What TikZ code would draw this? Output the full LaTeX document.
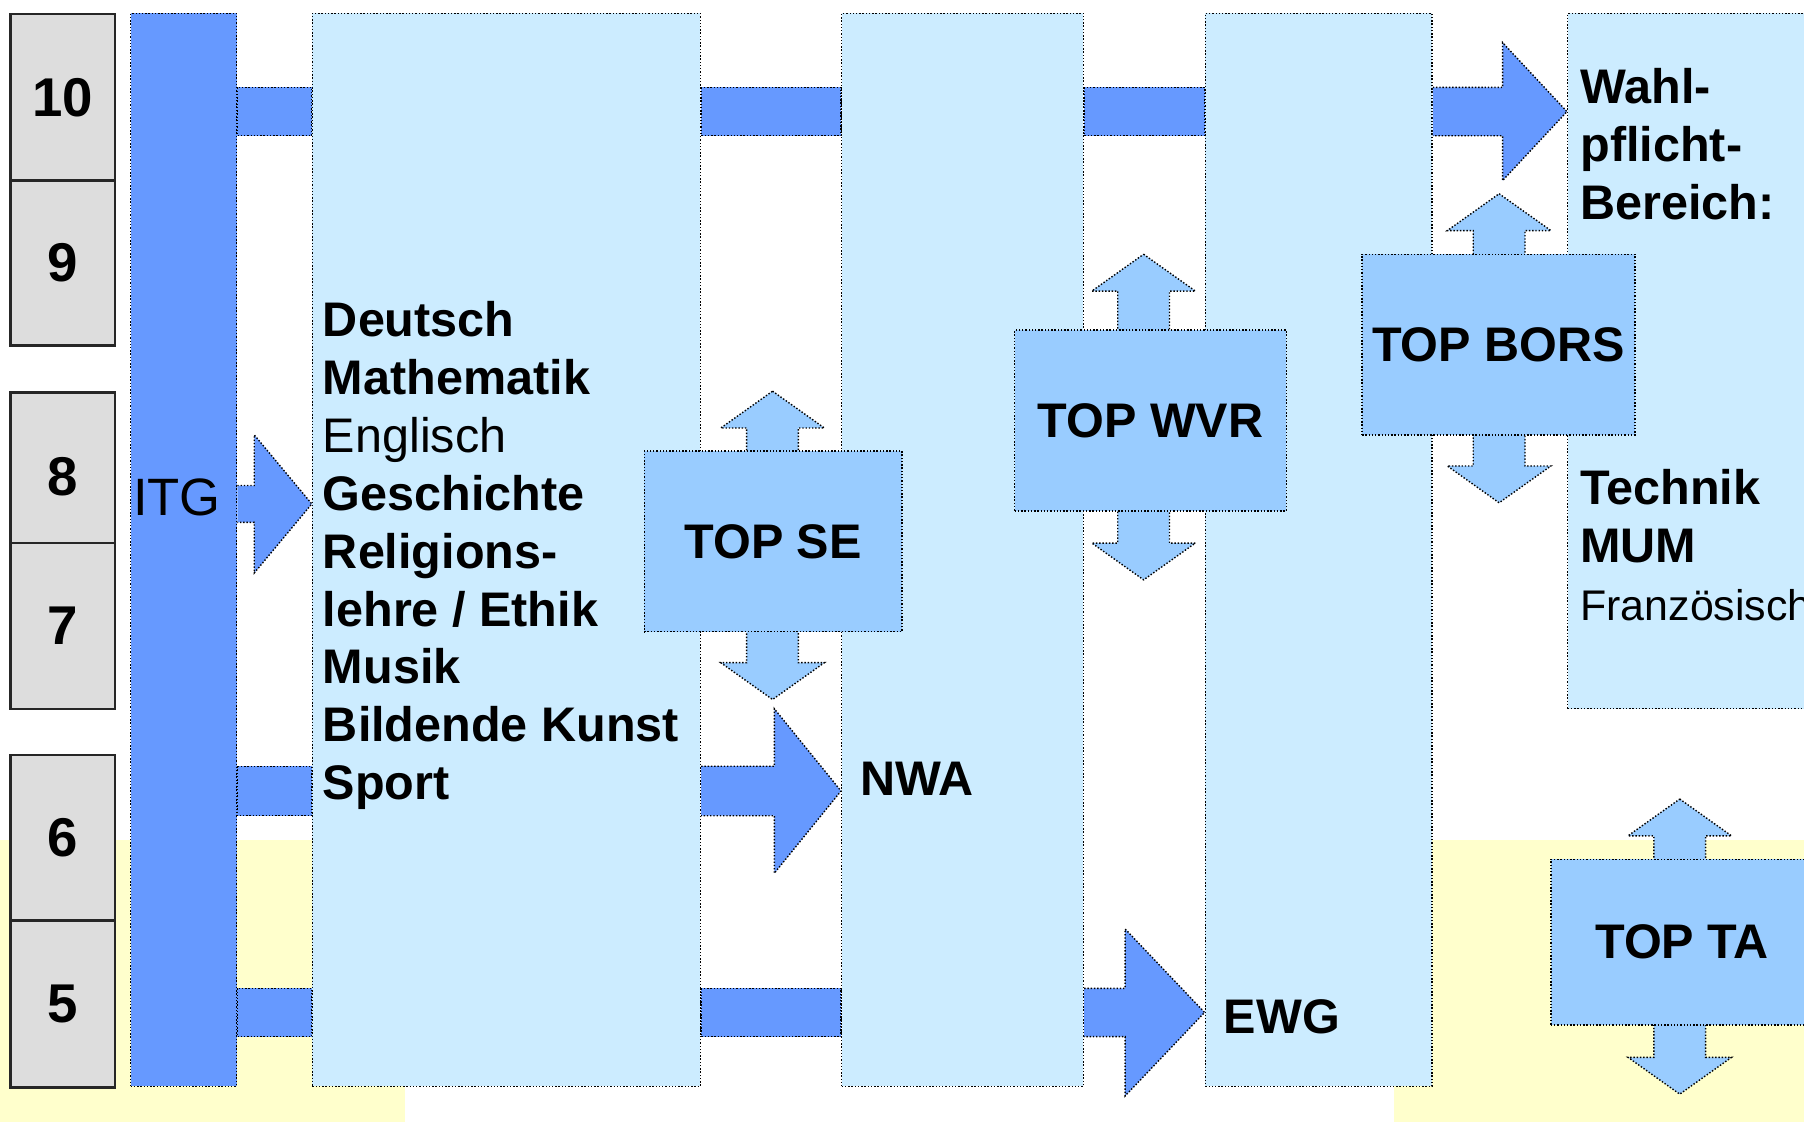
\documentclass[tikz,border=0pt]{standalone}
\usepackage{fontspec}
\setmainfont{Liberation Sans}
\usetikzlibrary{calc}
\definecolor{itgblue}{RGB}{102, 153, 255}
\definecolor{paleblue}{RGB}{204, 236, 255}
\definecolor{topblue}{RGB}{153, 204, 255}
\definecolor{gradegray}{RGB}{221, 221, 221}
\definecolor{paleyellow}{RGB}{255, 255, 204}
\tikzset{
  dotline/.style={draw=black, line width=0.35pt, dash pattern=on 0.35pt off 0.45pt},
  column/.style={dotline, fill=paleblue, anchor=north west, inner sep=0pt, minimum height=9.32cm},
  bar/.style={dotline, fill=itgblue},
  topbox/.style={dotline, fill=topblue, inner sep=0pt, minimum height=1.57cm, font=\bfseries\fontsize{12}{14}\selectfont},
  grade/.style={draw=black!85, line width=0.6pt, fill=gradegray, anchor=north west, inner sep=0pt,
    minimum width=0.91cm, font=\bfseries\fontsize{13.5}{16}\selectfont},
  subj/.style={inner sep=0pt, anchor=west, align=left, font=\bfseries\fontsize{12}{14.3}\selectfont}
}
\newcommand{\blockarrow}[6]{%
  \filldraw[bar] ($(#1|-#3)+(0,-#4)$) -- ($(#2|-#3)+(-#5,-#4)$) -- ($(#2|-#3)+(-#5,-#6)$)
    -- (#2|-#3) -- ($(#2|-#3)+(-#5,#6)$) -- ($(#2|-#3)+(-#5,#4)$) -- ($(#1|-#3)+(0,#4)$);}
\newcommand{\toparrows}[3]{%
  \filldraw[dotline, fill=topblue] (#1,#2) -- (#1+45,#2+32) -- (#1+22.5,#2+32) -- (#1+22.5,#3-32)
    -- (#1+45,#3-32) -- (#1,#3) -- (#1-45,#3-32) -- (#1-22.5,#3-32) -- (#1-22.5,#2+32)
    -- (#1-45,#2+32) -- cycle;}

\begin{document}
\begin{tikzpicture}[x=0.01cm, y=-0.01cm]
  \useasboundingbox (0,0) rectangle (1568,975);
  \clip (0,0) rectangle (1568,975);
  \fill[paleyellow] (0,730) rectangle (352,975);
  \fill[paleyellow] (1212,730) rectangle (1568,975);

  \foreach \g/\y/\h in {10/11/1.45, 9/156/1.43, 8/340/1.46, 7/471/1.44, 6/655/1.44, 5/799/1.45}
    \node[grade, minimum height=\h cm] (g\g) at (8,\y) {\g};

  \node[column, fill=itgblue, minimum width=0.92cm] (itg) at (113,11) {};
  \node[column, minimum width=3.37cm] (deu) at (271,11) {};
  \node[column, minimum width=2.10cm] (nwa) at (731,11) {};
  \node[column, minimum width=1.97cm] (ewg) at (1047,11) {};
  \node[column, minimum width=2.50cm, minimum height=6.04cm] (wpf) at (1362,11) {};

  \coordinate (r10) at (0,97);
  \coordinate (r8) at (0,438);
  \coordinate (r6) at (0,687.5);
  \coordinate (r5) at (0,880);

  \foreach \a/\b in {itg/deu, deu/nwa, nwa/ewg}
    \filldraw[bar] ($(\a.east|-r10)+(0,-21)$) rectangle ($(\b.west|-r10)+(0,21)$);
  \filldraw[bar] ($(itg.east|-r6)+(0,-21.5)$) rectangle ($(deu.west|-r6)+(0,21.5)$);
  \foreach \a/\b in {itg/deu, deu/nwa}
    \filldraw[bar] ($(\a.east|-r5)+(0,-21)$) rectangle ($(\b.west|-r5)+(0,21)$);
  \blockarrow{ewg.east}{wpf.west}{r10}{21}{56}{60}
  \blockarrow{itg.east}{deu.west}{r8}{16}{50}{60}
  \blockarrow{deu.east}{nwa.west}{r6}{21.5}{58}{71.5}
  \blockarrow{nwa.east}{ewg.west}{r5}{21}{69}{72.5}

  \toparrows{671.5}{340}{608}
  \toparrows{994}{221}{504}
  \toparrows{1303}{168.4}{437}
  \toparrows{1460}{694.5}{951}
  \node[topbox, minimum width=2.24cm] (se) at (672,470.5) {TOP SE};
  \node[topbox, minimum width=2.36cm] (wvr) at (1000,365.5) {TOP WVR};
  \node[topbox, minimum width=2.37cm] (bors) at (1302.5,299.5) {TOP BORS};
  \node[topbox, minimum width=2.28cm, minimum height=1.44cm] (ta) at (1462,819) {TOP TA};

  \node[subj, font=\fontsize{13}{15}\selectfont] (itglabel) at (115,432) {ITG};
  \node[subj] (subjects) at (280,483) {Deutsch\\Mathematik\\{\mdseries Englisch}\\Geschichte\\Religions-\\lehre / Ethik\\Musik\\Bildende Kunst\\Sport};
  \node[subj] (nwalabel) at (747,677) {NWA};
  \node[subj] (ewglabel) at (1063,884) {EWG};
  \node[subj] (wahl) at (1373,125) {Wahl-\\pflicht-\\Bereich:};
  \node[subj] (faecher) at (1373,474) {Technik\\MUM\\{\mdseries\fontsize{10.6}{13}\selectfont Französisch}};
\end{tikzpicture}
\end{document}
